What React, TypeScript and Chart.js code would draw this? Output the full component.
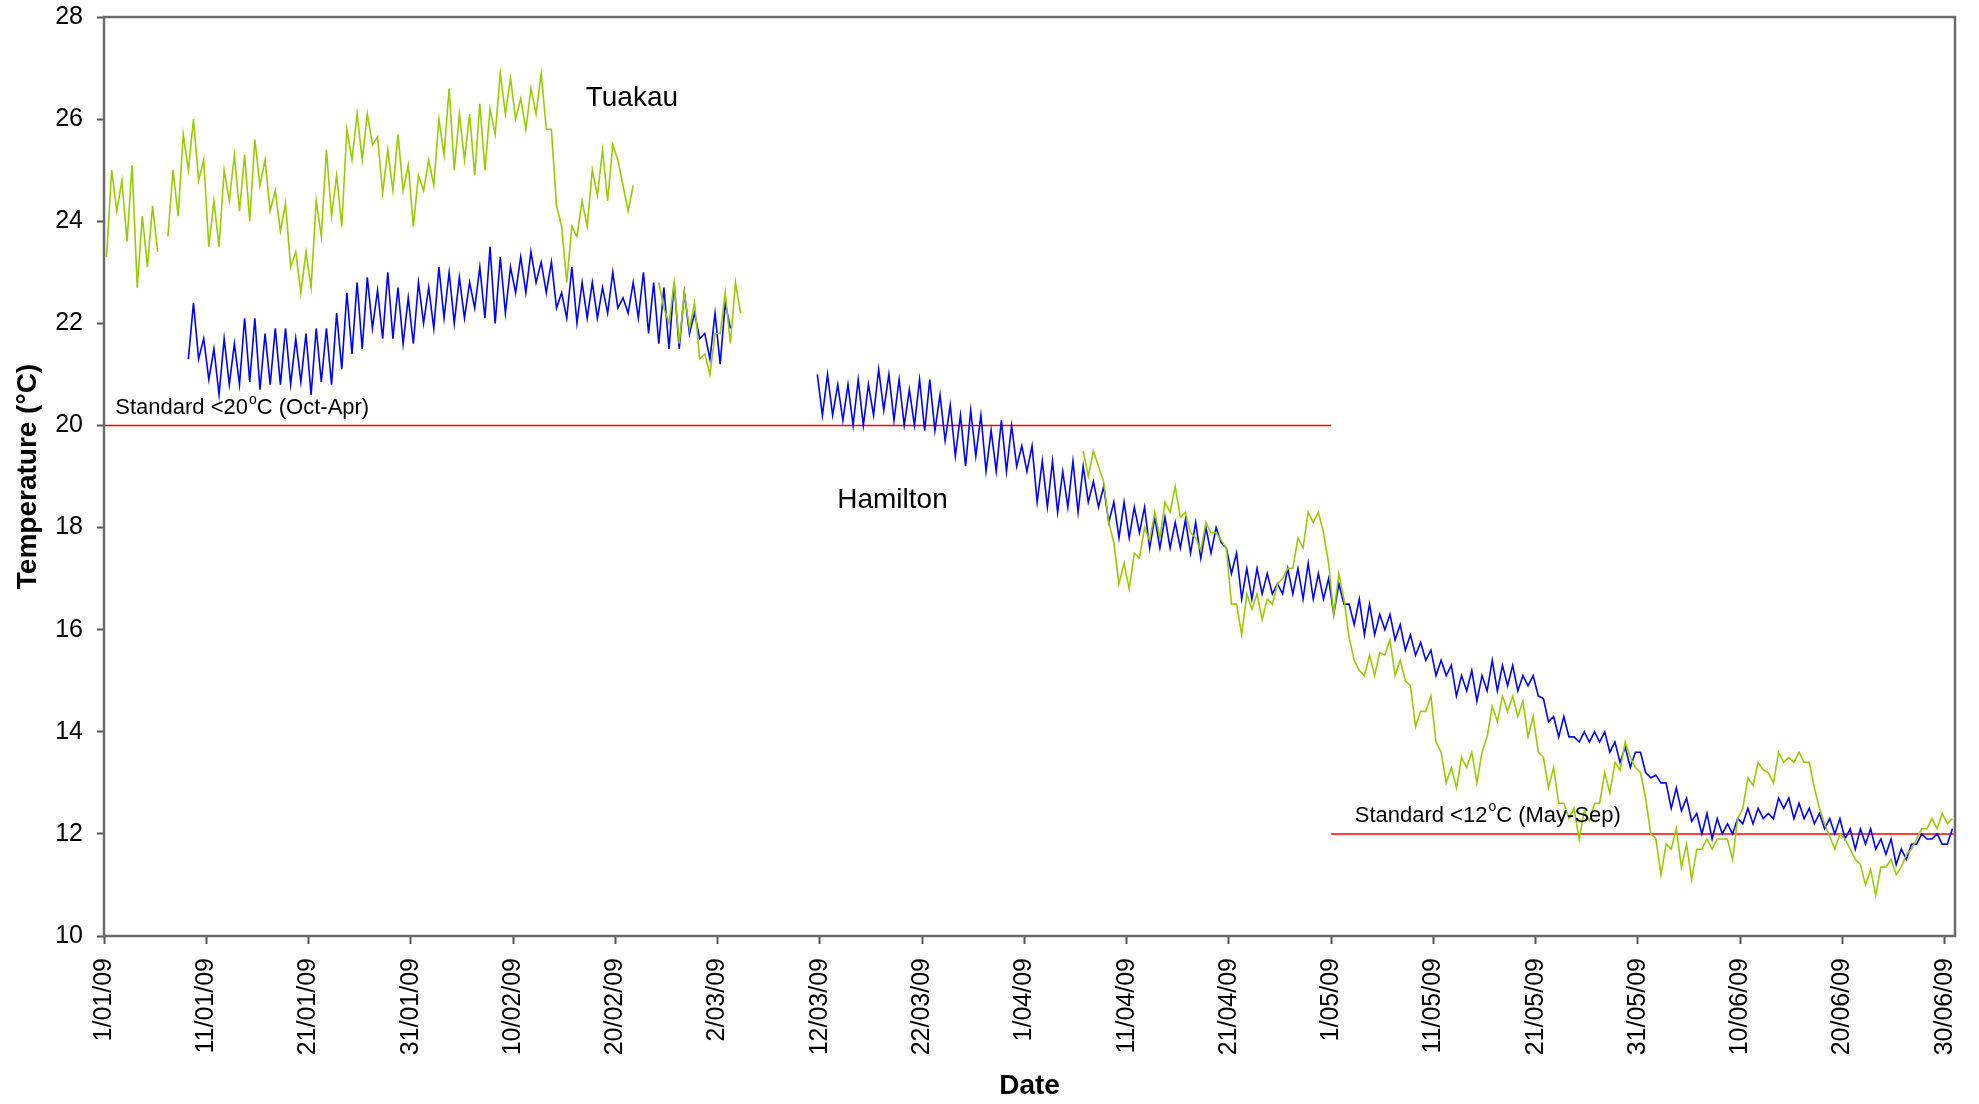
import { useEffect, useRef } from "react";
import { Chart, registerables } from "chart.js";

Chart.register(...registerables);

const FONT = '"Liberation Sans", Arial, Helvetica, sans-serif';

// readings every half day (night low, afternoon high), x = days since 1 Jan 2009
const STEP = 0.5;

// Hamilton (blue)
const hamiltonJanStart = 8.25;
const hamiltonJan = [
  21.3, 22.4, 21.3, 21.7, 20.9, 21.5, 20.6, 21.7, 20.8, 21.6, // 8-12
  20.8, 22.1, 20.85, 22.1, 20.7, 21.8, 20.8, 21.9, 20.8, 21.9, // 13-17
  20.8, 21.7, 20.85, 21.8, 20.6, 21.9, 20.85, 21.9, 20.8, 22.2, // 18-22
  21.1, 22.6, 21.4, 22.8, 21.5, 22.9, 21.9, 22.65, 21.7, 23.0, // 23-27
  21.7, 22.7, 21.6, 22.5, 21.6, 22.8, 22.0, 22.7, 21.9, 23.1, // 28-32
  22.1, 23.0, 22.0, 22.9, 22.1, 22.8, 22.3, 23.1, 22.1, 23.5, // 33-37
  22.0, 23.3, 22.2, 23.1, 22.6, 23.3, 22.6, 23.4, 22.8, 23.2, // 38-42
  22.6, 23.2, 22.3, 22.6, 22.1, 23.1, 22.0, 22.8, 22.1, 22.8, // 43-47
  22.1, 22.7, 22.2, 23.0, 22.3, 22.5, 22.2, 22.8, 22.1, 23.0, // 48-52
  21.8, 22.8, 21.6, 22.7, 21.5, 22.8, 21.5, 22.6, 21.8, 22.2, // 53-57
  21.7, 21.8, 21.3, 22.2, 21.2, 22.4, 21.9, // 58-61
];
const hamiltonMarStart = 69.75;
const hamiltonMar = [
  21.0,
  20.2, 21.0, 20.2, 20.8, 20.1, 20.8, 20.0, 20.9, 20.0, 20.8, // 70-74
  20.2, 21.1, 20.3, 21.0, 20.1, 20.9, 20.0, 20.7, 20.0, 20.9, // 75-79
  19.9, 20.9, 19.9, 20.6, 19.7, 20.4, 19.4, 20.2, 19.2, 20.3, // 80-84
  19.4, 20.2, 19.1, 19.9, 19.1, 20.1, 19.1, 20.0, 19.2, 19.6, // 85-89
  19.1, 19.6, 18.5, 19.3, 18.4, 19.3, 18.3, 19.1, 18.4, 19.3, // 90-94
  18.3, 19.2, 18.5, 18.9, 18.4, 18.8, 18.1, 18.5, 17.8, 18.5, // 95-99
  17.8, 18.4, 17.9, 18.4, 17.6, 18.2, 17.6, 18.2, 17.6, 18.1, // 100-104
  17.6, 18.15, 17.5, 18.1, 17.4, 18.0, 17.5, 18.0, 17.7, 17.6, // 105-109
  17.1, 17.5, 16.6, 17.2, 16.6, 17.2, 16.7, 17.1, 16.7, 16.9, // 110-114
  16.7, 17.2, 16.7, 17.2, 16.6, 17.3, 16.6, 17.1, 16.6, 17.0, // 115-119
  16.3, 16.9, 16.5, 16.5, 16.1, 16.6, 15.9, 16.5, 15.9, 16.3, // 120-124
  16.0, 16.3, 15.8, 16.1, 15.6, 15.9, 15.5, 15.75, 15.4, 15.6, // 125-129
  15.1, 15.4, 15.1, 15.3, 14.7, 15.1, 14.8, 15.2, 14.6, 15.1, // 130-134
  14.8, 15.4, 14.8, 15.3, 14.9, 15.3, 14.8, 15.1, 14.9, 15.1, // 135-139
  14.7, 14.65, 14.2, 14.3, 13.9, 14.3, 13.9, 13.9, 13.8, 14.0, // 140-144
  13.8, 14.0, 13.8, 14.0, 13.6, 13.8, 13.4, 13.7, 13.3, 13.6, // 145-149
  13.6, 13.2, 13.1, 13.15, 13.0, 13.0, 12.5, 12.9, 12.45, 12.7, // 150-154
  12.25, 12.4, 12.0, 12.4, 11.9, 12.3, 12.0, 12.2, 12.0, 12.3, // 155-159
  12.2, 12.5, 12.2, 12.5, 12.3, 12.4, 12.3, 12.7, 12.5, 12.7, // 160-164
  12.3, 12.6, 12.3, 12.5, 12.2, 12.4, 12.1, 12.3, 12.0, 12.3, // 165-169
  11.9, 12.1, 11.7, 12.1, 11.8, 12.1, 11.7, 11.9, 11.6, 11.9, // 170-174
  11.4, 11.7, 11.5, 11.8, 11.8, 12.0, 11.9, 11.9, 12.0, 11.8, // 175-179
  11.8, 12.1, // 180
];

// Tuakau (green)
const tuakauJanStart = 0.25;
const tuakauJan = [
  23.3, 25.0, 24.2, 24.8, 23.6, 25.1, 22.7, 24.1, 23.1, 24.3, // 0-4
  23.4, null, 23.7, 25.0, 24.1, 25.7, 25.0, 26.0, 24.8, 25.2, // 5-9
  23.5, 24.4, 23.5, 25.0, 24.4, 25.3, 24.2, 25.3, 24.0, 25.6, // 10-14
  24.7, 25.2, 24.2, 24.6, 23.8, 24.35, 23.1, 23.4, 22.6, 23.4, // 15-19
  22.7, 24.4, 23.7, 25.4, 24.1, 24.9, 23.9, 25.8, 25.2, 26.1, // 20-24
  25.2, 26.1, 25.5, 25.65, 24.55, 25.4, 24.6, 25.7, 24.6, 25.1, // 25-29
  23.9, 24.9, 24.6, 25.2, 24.7, 26.0, 25.3, 26.6, 25.0, 26.1, // 30-34
  25.2, 26.1, 24.9, 26.3, 25.0, 26.2, 25.7, 26.9, 26.1, 26.8, // 35-39
  26.0, 26.4, 25.8, 26.6, 26.1, 26.9, 25.8, 25.8, 24.3, 23.9, // 40-44
  22.8, 23.9, 23.7, 24.4, 23.9, 25.0, 24.5, 25.4, 24.4, 25.5, // 45-49
  25.2, 24.7, 24.2, 24.7, // 50-51
];
const tuakauFebStart = 54.25;
const tuakauFeb = [
  22.8, 22.3, 22.0, 22.8, 21.6, 22.6, 21.9, 22.4, 21.3, 21.4, // 54-58
  21.0, 21.8, 21.8, 22.6, 21.6, 22.8, 22.2, // 59-62
];
const tuakauAprStart = 95.75;
const tuakauApr = [
  19.5,
  19.0, 19.5, 19.2, 18.9, 18.1, 17.7, 16.9, 17.3, 16.8, 17.5, // 96-100
  17.4, 18.0, 17.75, 18.3, 17.8, 18.5, 18.3, 18.8, 18.2, 18.3, // 101-105
  17.9, 17.8, 17.55, 18.1, 17.9, 17.9, 17.75, 17.6, 16.5, 16.5, // 106-110
  15.9, 16.7, 16.4, 16.7, 16.2, 16.6, 16.5, 16.9, 17.0, 17.2, // 111-115
  17.2, 17.8, 17.6, 18.3, 18.1, 18.3, 17.9, 17.3, 16.3, 17.1, // 116-120
  16.6, 15.85, 15.4, 15.2, 15.1, 15.5, 15.1, 15.55, 15.5, 15.8, // 121-125
  15.1, 15.4, 15.0, 14.9, 14.1, 14.4, 14.4, 14.7, 13.8, 13.6, // 126-130
  13.0, 13.3, 12.9, 13.5, 13.3, 13.6, 13.0, 13.6, 13.9, 14.5, // 131-135
  14.2, 14.7, 14.4, 14.7, 14.3, 14.6, 13.9, 14.3, 13.6, 13.5, // 136-140
  12.9, 13.3, 12.6, 12.6, 12.3, 12.5, 11.9, 12.45, 12.25, 12.6, // 141-145
  12.6, 13.2, 12.8, 13.4, 13.25, 13.8, 13.5, 13.3, 13.2, 12.7, // 146-150
  12.0, 11.9, 11.2, 11.8, 11.7, 12.1, 11.35, 11.8, 11.1, 11.7, // 151-155
  11.7, 11.9, 11.7, 11.9, 11.9, 11.9, 11.5, 12.3, 12.5, 13.1, // 156-160
  12.95, 13.4, 13.25, 13.2, 13.0, 13.6, 13.4, 13.5, 13.4, 13.6, // 161-165
  13.4, 13.4, 12.9, 12.5, 12.2, 11.95, 11.7, 12.0, 11.9, 11.7, // 166-170
  11.5, 11.4, 11.0, 11.3, 10.8, 11.35, 11.35, 11.5, 11.2, 11.35, // 171-175
  11.6, 11.7, 11.9, 12.1, 12.1, 12.3, 12.1, 12.4, 12.2, 12.3, // 176-180
];

// water quality standards
const standardValues = [20, 12];
const standardFrom = [0, 120];
const standardTo = [120, 181];
const standardHead = ["Standard <20", "Standard <12"];
const standardTail = ["C (Oct-Apr)", "C (May-Sep)"];
const standardLabelDay = [1.1, 122.3];
const standardLabelTemp = [20.34, 12.36];

const stationNames = ["Tuakau", "Hamilton"];
const stationLabelDay = [47.1, 71.7];
const stationLabelTemp = [26.4, 18.54];

const dateLabels = [
  "1/01/09", "11/01/09", "21/01/09", "31/01/09", "10/02/09", "20/02/09", "2/03/09",
  "12/03/09", "22/03/09", "1/04/09", "11/04/09", "21/04/09", "1/05/09", "11/05/09",
  "21/05/09", "31/05/09", "10/06/09", "20/06/09", "30/06/09",
];

const toPoints = (start: number, values: (number | null)[]) =>
  values.map((v, i) => ({ x: start + i * STEP, y: v }));

const joinSegments = (...segs: { x: number; y: number | null }[][]) => {
  const out: { x: number; y: number | null }[] = [];
  segs.forEach((s, i) => {
    if (i > 0) out.push({ x: s[0].x - STEP / 2, y: null });
    out.push(...s);
  });
  return out;
};

const notesPlugin = {
  id: "notes",
  afterDatasetsDraw(chart: any) {
    const { ctx, chartArea, scales } = chart;
    const x = scales.x;
    const y = scales.y;
    ctx.save();
    ctx.strokeStyle = "#6b6b6b";
    ctx.lineWidth = 2.5;
    ctx.strokeRect(chartArea.left, chartArea.top, chartArea.right - chartArea.left, chartArea.bottom - chartArea.top);

    ctx.fillStyle = "#000";
    ctx.textBaseline = "middle";
    ctx.textAlign = "left";
    ctx.font = `28px ${FONT}`;
    stationNames.forEach((name, i) => {
      ctx.fillText(name, x.getPixelForValue(stationLabelDay[i]), y.getPixelForValue(stationLabelTemp[i]));
    });

    standardHead.forEach((head, i) => {
      let px = x.getPixelForValue(standardLabelDay[i]);
      const py = y.getPixelForValue(standardLabelTemp[i]);
      ctx.font = `22px ${FONT}`;
      ctx.fillText(head, px, py);
      px += ctx.measureText(head).width + 1;
      ctx.font = `14px ${FONT}`;
      ctx.fillText("o", px, py - 8);
      px += ctx.measureText("o").width;
      ctx.font = `22px ${FONT}`;
      ctx.fillText(standardTail[i], px, py);
    });
    ctx.restore();
  },
};

export default function App() {
  const canvasRef = useRef<HTMLCanvasElement>(null);

  useEffect(() => {
    if (!canvasRef.current) return;

    const standardSets = standardValues.map((v, i) => ({
      label: "standard " + v,
      data: [
        { x: standardFrom[i], y: v },
        { x: standardTo[i], y: v },
      ],
      borderColor: "#ff0000",
      borderWidth: 1.5,
      pointRadius: 0,
      order: 3,
    }));

    const chart = new Chart(canvasRef.current, {
      type: "line",
      data: {
        datasets: [
          ...standardSets,
          {
            label: "Hamilton",
            data: joinSegments(toPoints(hamiltonJanStart, hamiltonJan), toPoints(hamiltonMarStart, hamiltonMar)),
            borderColor: "#0000ff",
            borderWidth: 1.6,
            pointRadius: 0,
            tension: 0,
            spanGaps: false,
            order: 2,
          },
          {
            label: "Tuakau",
            data: joinSegments(
              toPoints(tuakauJanStart, tuakauJan),
              toPoints(tuakauFebStart, tuakauFeb),
              toPoints(tuakauAprStart, tuakauApr)
            ),
            borderColor: "#99cc00",
            borderWidth: 1.6,
            pointRadius: 0,
            tension: 0,
            spanGaps: false,
            order: 1,
          },
        ] as any,
      },
      options: {
        animation: false,
        responsive: true,
        maintainAspectRatio: false,
        layout: { padding: { left: 0, right: 24, top: 17, bottom: 0 } },
        plugins: { legend: { display: false }, tooltip: { enabled: false } },
        scales: {
          x: {
            type: "linear",
            min: 0,
            max: 181,
            afterFit: (s: any) => {
              s.height = 168;
              s.paddingLeft = 0;
              s.paddingRight = 0;
            },
            border: { display: false },
            grid: { drawOnChartArea: false, drawTicks: true, tickLength: 8, tickColor: "#555", tickWidth: 2 },
            ticks: {
              stepSize: 10,
              includeBounds: false,
              autoSkip: false,
              minRotation: 90,
              maxRotation: 90,
              padding: 14,
              color: "#000",
              font: { family: FONT, size: 25 },
              callback: (v: any) => dateLabels[Math.round(Number(v) / 10)] ?? "",
            },
            title: {
              display: true,
              text: "Date",
              color: "#000",
              font: { family: FONT, size: 28, weight: "bold" },
              padding: { top: 0, bottom: 1 },
            },
          },
          y: {
            min: 10,
            max: 28,
            afterFit: (s: any) => {
              s.width = 104;
              s.paddingTop = 0;
              s.paddingBottom = 0;
            },
            border: { display: false },
            grid: { drawOnChartArea: false, drawTicks: true, tickLength: 7, tickColor: "#555", tickWidth: 2 },
            ticks: { stepSize: 2, padding: 14, color: "#000", font: { family: FONT, size: 25 } },
            title: {
              display: true,
              text: "Temperature (°C)",
              color: "#000",
              font: { family: FONT, size: 28, weight: "bold" },
              padding: { top: 11, bottom: 0 },
            },
          },
        },
      } as any,
      plugins: [notesPlugin],
    });

    return () => chart.destroy();
  }, []);

  return (
    <div style={{ position: "fixed", left: 0, top: 0, width: 1979, height: 1104, background: "#fff" }}>
      <canvas ref={canvasRef}></canvas>
    </div>
  );
}
